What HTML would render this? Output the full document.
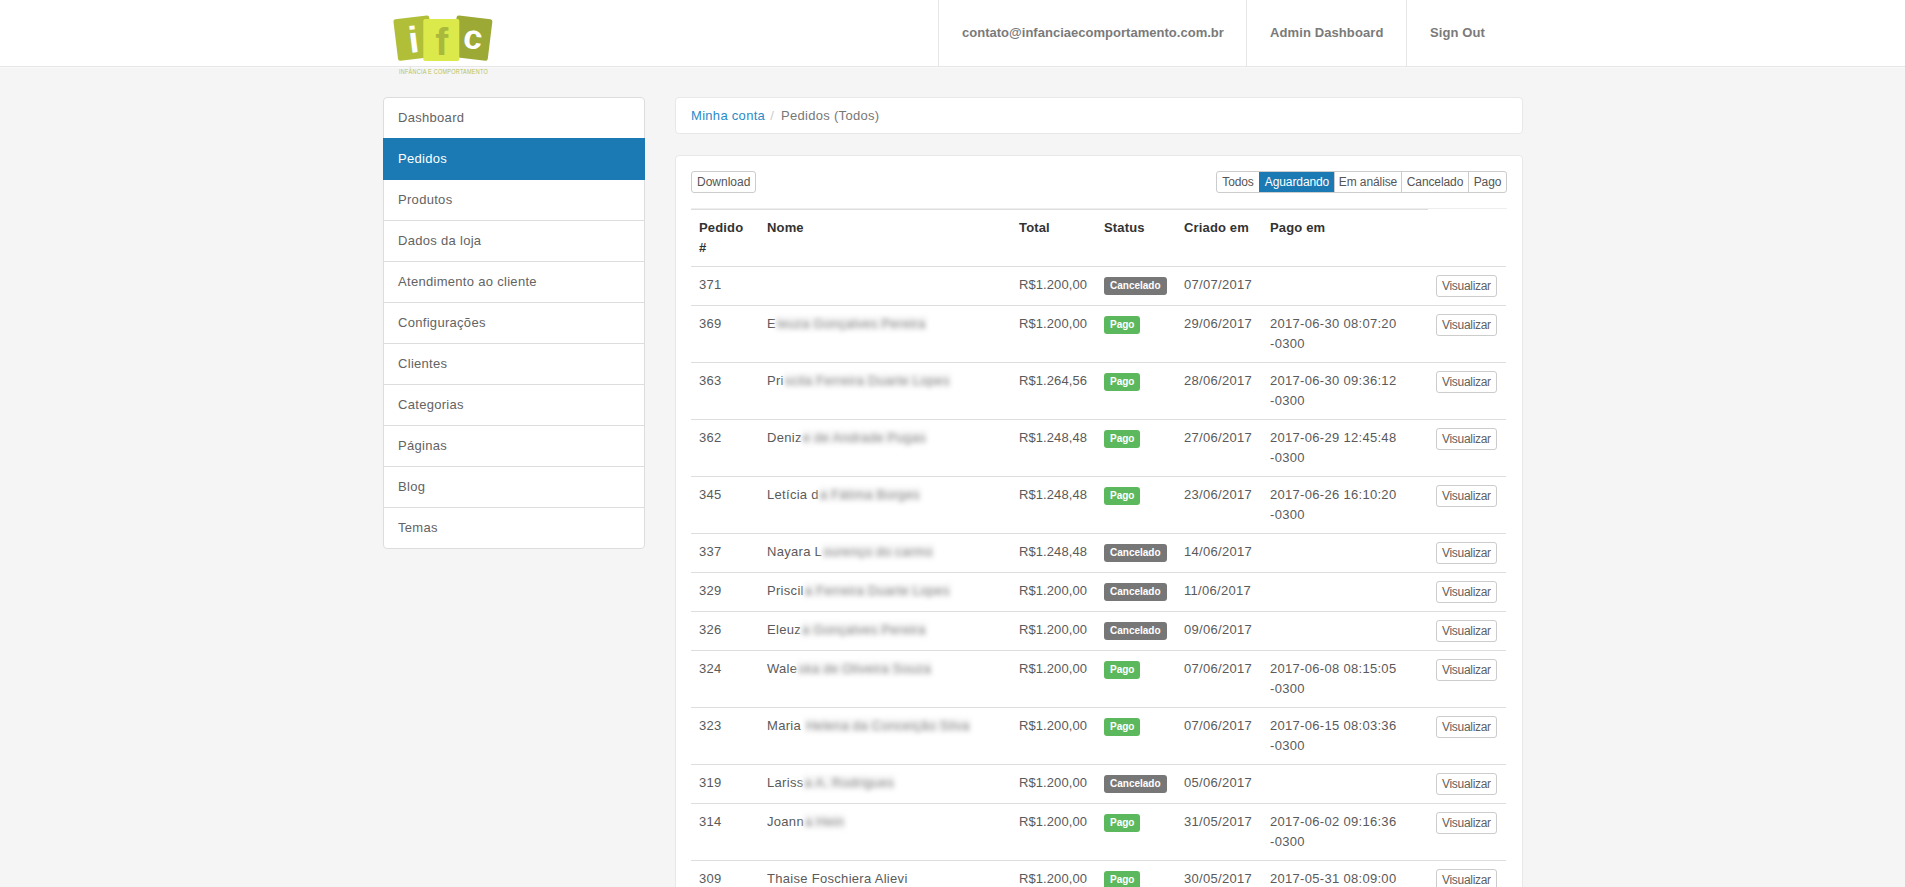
<!DOCTYPE html>
<html lang="pt-BR">
<head>
<meta charset="utf-8">
<title>Pedidos (Todos)</title>
<style>
*{box-sizing:border-box;margin:0;padding:0}
html,body{width:1905px;height:887px;overflow:hidden}
body{background:#f5f5f5;font-family:"Liberation Sans",sans-serif;font-size:13px;letter-spacing:0.3px;line-height:20px;color:#555;position:relative}
a{text-decoration:none}
#hdr{position:absolute;left:0;top:0;width:1905px;height:67px;background:#fff;border-bottom:1px solid #e6e6e6;box-shadow:0 1px 0 #fafafa}
#logo{position:absolute;left:380px;top:0;width:130px;height:80px}
.nav{position:absolute;top:0;height:66px;border-left:1px solid #e6e6e6;font-weight:bold;color:#7a7a7a;font-size:13px;letter-spacing:0.1px;line-height:66px;padding:0 23px;white-space:nowrap}
#side{position:absolute;left:383px;top:97px;width:262px}
#side div{position:relative;height:42px;margin-bottom:-1px;padding:10px 15px 0 14px;border:1px solid #ddd;background:#fff;color:#636363}
#side div:first-child{border-radius:4px 4px 0 0}
#side div:last-child{border-radius:0 0 4px 4px}
#side div.act{background:#1b7ab3;color:#fff;border-color:#1b7ab3;z-index:2}
#bc{position:absolute;left:675px;top:97px;width:848px;height:37px;background:#fff;border:1px solid #e8e8e8;border-radius:4px;padding:8px 15px;color:#777}
#bc a{color:#2a8bc8}
#bc .sep{color:#ccc;padding:0 3px 0 5px}
#panel{position:absolute;left:675px;top:155px;width:848px;height:760px;background:#fff;border:1px solid #e8e8e8;border-radius:4px}
.btn{position:absolute;display:block;height:22px;border:1px solid #ccc;border-radius:3px;background:#fff;color:#555;font-size:12px;letter-spacing:0;line-height:20px;padding:0 5px;white-space:nowrap}
#grp{position:absolute;left:1216px;top:171px;width:291px;height:22px;display:flex;border:1px solid #ccc;border-radius:3px;overflow:hidden;font-size:12px;letter-spacing:-0.1px;line-height:20px}
#grp span{display:block;padding:0;border-left:1px solid #ccc;color:#555;text-align:center}
#grp span:first-child{border-left:0}
#grp span.act{background:#1b7ab3;color:#fff;border-left-color:#1b7ab3}
#tline{position:absolute;left:691px;top:208px;width:816px;height:1px;background:#eee}
table{position:absolute;left:691px;top:209px;width:815px;border-collapse:collapse;table-layout:fixed}
th,td{padding:8px;text-align:left;vertical-align:top;line-height:20px}
th{font-weight:bold;color:#333;border-top:1px solid #ddd;letter-spacing:0.15px}
th.nb{border-top:0}
td{border-top:1px solid #ddd;color:#5a5a5a}
td:nth-child(3){letter-spacing:0.08px}
thead tr th{padding-bottom:8px}
.lbl{display:inline-block;letter-spacing:0;font-size:10px;font-weight:bold;color:#fff;line-height:14px;padding:2px 6px 2px 6px;border-radius:3px;vertical-align:top;margin-top:2px}
.lc{background:#777}
.lp{background:#5cb85c}
.vb{display:inline-block;height:22px;border:1px solid #ccc;border-radius:3px;background:#fff;color:#5f5f5f;font-size:12px;letter-spacing:-0.3px;line-height:20px;padding:0 5px;vertical-align:top;margin-top:0px}
.bl{display:inline-block;filter:blur(2.4px);color:#858585;background:#f6f6f6;line-height:15px;padding:0 1px}
</style>
</head>
<body>
<div id="hdr"></div>
<svg id="logo" viewBox="380 0 130 80" width="130" height="80">
<g transform="rotate(-7 413.6 38.1)"><rect x="395.6" y="17.2" width="36" height="41.8" rx="2.2" fill="#b0bf37"/>
<text x="413.6" y="52.4" text-anchor="middle" font-family="Liberation Sans, sans-serif" font-weight="bold" font-size="37" fill="#fff">i</text></g>
<g transform="rotate(7 472.2 38.1)"><rect x="454.2" y="17.2" width="36" height="41.8" rx="2.2" fill="#9ca935"/>
<text x="473" y="48.6" text-anchor="middle" font-family="Liberation Sans, sans-serif" font-weight="bold" font-size="34" fill="#fff">c</text></g>
<rect x="423.3" y="19.1" width="36" height="42" rx="1.8" fill="#dce94b"/>
<text x="441.8" y="55" text-anchor="middle" font-family="Liberation Sans, sans-serif" font-weight="bold" font-size="39" fill="#a9b93b">f</text>
<text x="399" y="74" font-family="Liberation Sans, sans-serif" font-size="7" fill="#b7c259" textLength="89" lengthAdjust="spacingAndGlyphs">INFÂNCIA E COMPORTAMENTO</text>
</svg>
<div class="nav" style="left:938px;letter-spacing:0.02px">contato@infanciaecomportamento.com.br</div>
<div class="nav" style="left:1246px">Admin Dashboard</div>
<div class="nav" style="left:1406px">Sign Out</div>

<div id="side">
<div>Dashboard</div>
<div class="act">Pedidos</div>
<div>Produtos</div>
<div>Dados da loja</div>
<div>Atendimento ao cliente</div>
<div>Configurações</div>
<div>Clientes</div>
<div>Categorias</div>
<div>Páginas</div>
<div>Blog</div>
<div>Temas</div>
</div>

<div id="bc"><a>Minha conta</a><span class="sep">/</span> Pedidos (Todos)</div>
<div id="panel"></div>
<div class="btn" style="left:691px;top:171px">Download</div>
<div id="grp"><span style="width:42px">Todos</span><span class="act" style="width:75px">Aguardando</span><span style="width:67px">Em análise</span><span style="width:67px">Cancelado</span><span style="width:38px">Pago</span></div>
<div id="tline"></div>
<table>
<colgroup><col style="width:68px"><col style="width:252px"><col style="width:85px"><col style="width:80px"><col style="width:86px"><col style="width:166px"><col style="width:78px"></colgroup>
<thead><tr><th>Pedido #</th><th>Nome</th><th>Total</th><th>Status</th><th>Criado em</th><th>Pago em</th><th class="nb"></th></tr></thead>
<tbody>
<tr><td>371</td><td></td><td>R$1.200,00</td><td><span class="lbl lc">Cancelado</span></td><td>07/07/2017</td><td></td><td><span class="vb">Visualizar</span></td></tr>
<tr><td>369</td><td>E<span class="bl">leuza Gonçalves Pereira</span></td><td>R$1.200,00</td><td><span class="lbl lp">Pago</span></td><td>29/06/2017</td><td>2017-06-30 08:07:20<br>-0300</td><td><span class="vb">Visualizar</span></td></tr>
<tr><td>363</td><td>Pri<span class="bl">scila Ferreira Duarte Lopes</span></td><td>R$1.264,56</td><td><span class="lbl lp">Pago</span></td><td>28/06/2017</td><td>2017-06-30 09:36:12<br>-0300</td><td><span class="vb">Visualizar</span></td></tr>
<tr><td>362</td><td>Deniz<span class="bl">e de Andrade Pugas</span></td><td>R$1.248,48</td><td><span class="lbl lp">Pago</span></td><td>27/06/2017</td><td>2017-06-29 12:45:48<br>-0300</td><td><span class="vb">Visualizar</span></td></tr>
<tr><td>345</td><td>Letícia d<span class="bl">a Fátima Borges</span></td><td>R$1.248,48</td><td><span class="lbl lp">Pago</span></td><td>23/06/2017</td><td>2017-06-26 16:10:20<br>-0300</td><td><span class="vb">Visualizar</span></td></tr>
<tr><td>337</td><td>Nayara L<span class="bl">ourenço do carmo</span></td><td>R$1.248,48</td><td><span class="lbl lc">Cancelado</span></td><td>14/06/2017</td><td></td><td><span class="vb">Visualizar</span></td></tr>
<tr><td>329</td><td>Priscil<span class="bl">a Ferreira Duarte Lopes</span></td><td>R$1.200,00</td><td><span class="lbl lc">Cancelado</span></td><td>11/06/2017</td><td></td><td><span class="vb">Visualizar</span></td></tr>
<tr><td>326</td><td>Eleuz<span class="bl">a Gonçalves Pereira</span></td><td>R$1.200,00</td><td><span class="lbl lc">Cancelado</span></td><td>09/06/2017</td><td></td><td><span class="vb">Visualizar</span></td></tr>
<tr><td>324</td><td>Wale<span class="bl">ska de Oliveira Souza</span></td><td>R$1.200,00</td><td><span class="lbl lp">Pago</span></td><td>07/06/2017</td><td>2017-06-08 08:15:05<br>-0300</td><td><span class="vb">Visualizar</span></td></tr>
<tr><td>323</td><td>Maria <span class="bl">Helena da Conceição Silva</span></td><td>R$1.200,00</td><td><span class="lbl lp">Pago</span></td><td>07/06/2017</td><td>2017-06-15 08:03:36<br>-0300</td><td><span class="vb">Visualizar</span></td></tr>
<tr><td>319</td><td>Lariss<span class="bl">a A. Rodrigues</span></td><td>R$1.200,00</td><td><span class="lbl lc">Cancelado</span></td><td>05/06/2017</td><td></td><td><span class="vb">Visualizar</span></td></tr>
<tr><td>314</td><td>Joann<span class="bl">a Hein</span></td><td>R$1.200,00</td><td><span class="lbl lp">Pago</span></td><td>31/05/2017</td><td>2017-06-02 09:16:36<br>-0300</td><td><span class="vb">Visualizar</span></td></tr>
<tr><td>309</td><td>Thaise Foschiera Alievi</td><td>R$1.200,00</td><td><span class="lbl lp">Pago</span></td><td>30/05/2017</td><td>2017-05-31 08:09:00<br>-0300</td><td><span class="vb">Visualizar</span></td></tr>
</tbody>
</table>
</body>
</html>
